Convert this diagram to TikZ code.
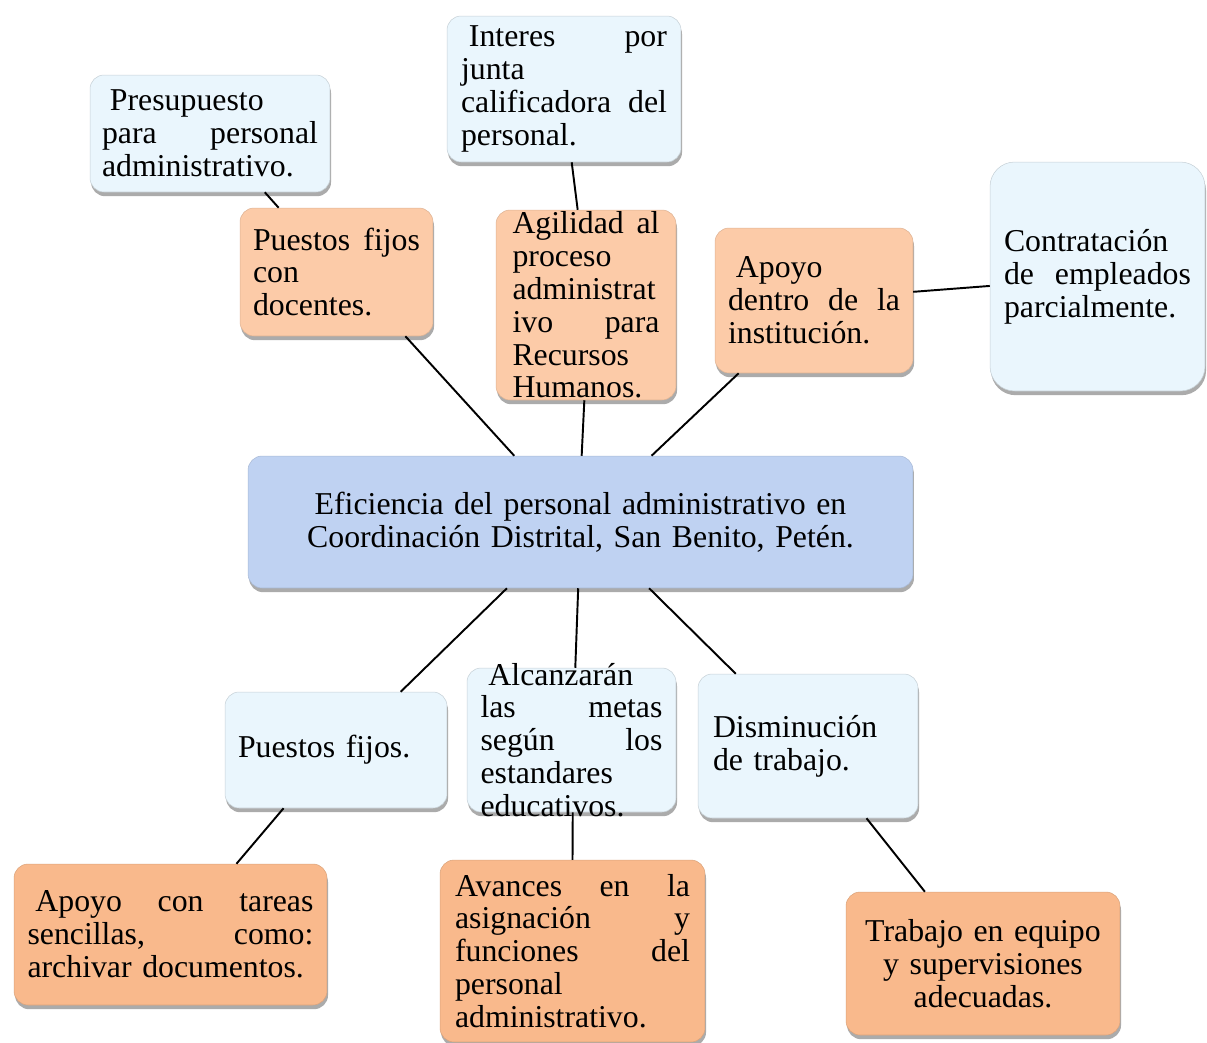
\documentclass[tikz,border=0pt]{standalone}
\usepackage{fontspec}
\setmainfont{Liberation Serif}
\usetikzlibrary{shadows}
\setlength{\parindent}{0pt}
\definecolor{celeste}{HTML}{EAF6FD}
\definecolor{durazno}{HTML}{FCCBA8}
\definecolor{naranja}{HTML}{F9B98C}
\definecolor{azul}{HTML}{BFD2F2}
\begin{document}
\begin{tikzpicture}[x=0.02cm,y=-0.02cm,
  caja/.style={rectangle, rounded corners=8pt, inner xsep=0pt, inner ysep=0pt,
    align=left, font=\fontsize{18.1pt}{18.7pt}\selectfont,
    drop shadow={shadow xshift=0.6pt, shadow yshift=-2.4pt, fill=black!60, opacity=.55}},
  hoja/.style={caja, fill=celeste, draw=celeste!85!black, line width=.3pt},
  rama/.style={caja, fill=durazno, draw=durazno!88!black, line width=.3pt},
  fruto/.style={caja, fill=naranja, draw=naranja!88!black, line width=.3pt},
  tronco/.style={caja, fill=azul, draw=azul!88!black, line width=.3pt, align=center},
  conector/.style={line width=1.1pt, black}]
\useasboundingbox (0,0) rectangle (1207,1042);
%\draw[help lines] (0,0) grid[step=50] (1207,1042);
\node[tronco, minimum width=13.3cm, minimum height=2.64cm, text width=12cm] (eficiencia) at (580.5,522)
  {Eficiencia del personal administrativo en\\Coordinación Distrital, San Benito, Petén.};

\node[hoja, minimum width=4.8cm, minimum height=2.34cm, text width=4.32cm] (presupuesto) at (210,133.5)
  {\hspace*{.25em}Presupuesto\\para\hfill personal\\administrativo.};
\node[rama, minimum width=3.86cm, minimum height=2.56cm, text width=3.34cm] (docentes) at (336.5,272)
  {Puestos\hfill fijos\\con\\docentes.};
\node[hoja, minimum width=4.68cm, minimum height=2.92cm, text width=4.12cm] (junta) at (564,89)
  {\hspace*{.25em}Interes\hfill por\\junta\\calificadora\hfill del\\personal.};
\node[rama, minimum width=3.6cm, minimum height=3.8cm, text width=2.94cm] (agilidad) at (586,305)
  {Agilidad\hfill al\\proceso\\administrat\\ivo\hfill para\\Recursos\\Humanos.};
\node[rama, minimum width=3.96cm, minimum height=2.9cm, text width=3.44cm] (apoyo) at (814,300.5)
  {\hspace*{.25em}Apoyo\\dentro\hfill de\hfill la\\institución.};
\node[hoja, rounded corners=14pt, minimum width=4.3cm, minimum height=4.58cm, text width=3.74cm] (contratacion) at (1097.5,276.5)
  {Contratación\\de\hfill empleados\\parcialmente.};

\node[hoja, minimum width=4.44cm, minimum height=2.32cm, text width=3.92cm] (fijos) at (336,750)
  {Puestos fijos.};
\node[hoja, minimum width=4.18cm, minimum height=2.88cm, text width=3.64cm, inner ysep=-0.12cm] (metas) at (571.5,740)
  {\hspace*{.25em}Alcanzarán\\las\hfill metas\\según\hfill los\\estandares\\educativos.};
\node[hoja, minimum width=4.4cm, minimum height=2.88cm, text width=3.8cm] (disminucion) at (808,746)
  {Disminución\\de trabajo.};
\node[fruto, minimum width=6.26cm, minimum height=2.82cm, text width=5.72cm] (tareas) at (170.5,934.5)
  {\hspace*{.25em}Apoyo\hfill con\hfill tareas\\sencillas,\hfill como:\\archivar documentos.};
\node[fruto, minimum width=5.3cm, minimum height=3.64cm, text width=4.7cm] (avances) at (572.5,951)
  {Avances\hfill en\hfill la\\asignación\hfill y\\funciones\hfill del\\personal\\administrativo.};
\node[fruto, align=center, minimum width=5.48cm, minimum height=2.86cm, text width=5cm] (equipo) at (983,963.5)
  {Trabajo en equipo\\y supervisiones\\adecuadas.};

\draw[conector] (presupuesto.-47) to (docentes.132);
\draw[conector] (docentes.-43)    to (eficiencia.135);
\draw[conector] (junta.-84)       to (agilidad.95);
\draw[conector] (agilidad.-91)    to (eficiencia.89);
\draw[conector] (apoyo.-136)      to (eficiencia.43);
\draw[conector] (apoyo.5)         to (contratacion.185);
\draw[conector] (eficiencia.-138) to (fijos.42);
\draw[conector] (eficiencia.-92)  to (metas.87);
\draw[conector] (eficiencia.-44)  to (disminucion.135);
\draw[conector] (fijos.-132)      to (tareas.47);
\draw[conector] (metas.-89)       to (avances.90);
\draw[conector] (disminucion.-51) to (equipo.129);
\end{tikzpicture}
\end{document}
